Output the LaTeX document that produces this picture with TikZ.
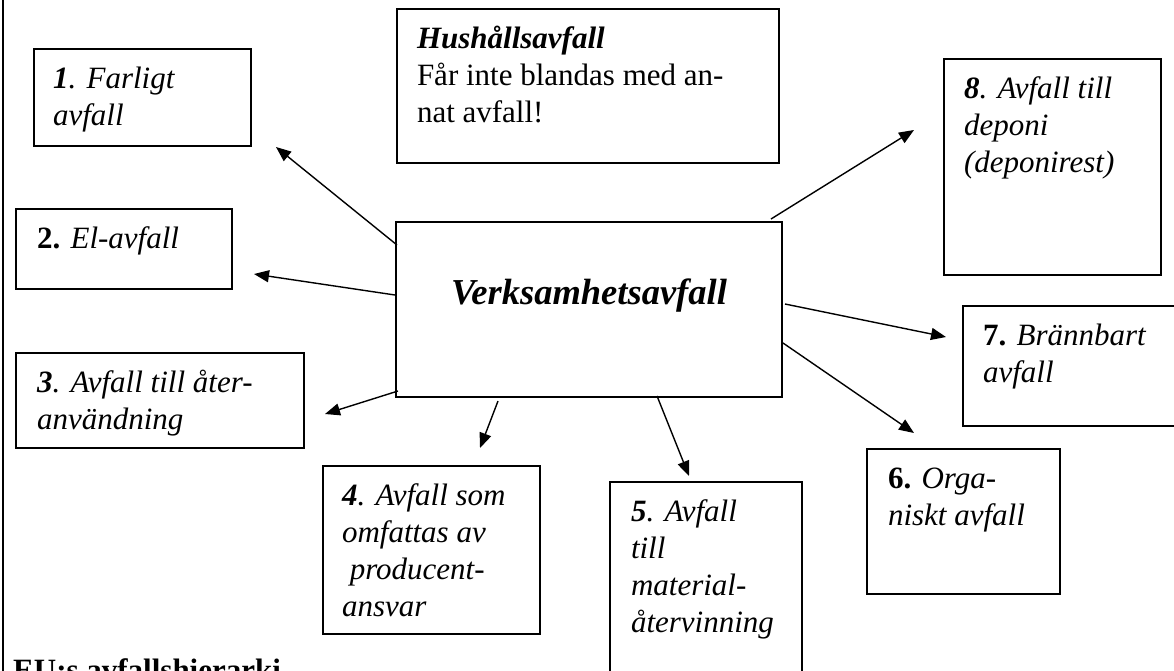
\documentclass[tikz,border=0pt]{standalone}
\usepackage{fontspec}
\setmainfont{Liberation Serif}
\usetikzlibrary{arrows.meta,calc}
\tikzset{
  box/.style={draw, line width=1.8pt, anchor=north west, inner sep=0pt, outer sep=0pt},
  lbl/.style={anchor=base west, inner sep=0pt, outer sep=0pt, font=\fontsize{31pt}{37pt}\selectfont\itshape},
  arr/.style={line width=1.4pt, -{Triangle[length=15pt,width=12pt]}},
}
\begin{document}
\begin{tikzpicture}[x=1pt,y=-1pt]
\useasboundingbox (0,0) rectangle (1174,670);
\clip (0,0) rectangle (1174,670);

% left border
\draw[line width=2pt] (2.5,-5) -- (2.5,680);

% boxes
\node[box, minimum width=217pt, minimum height=97pt] (b1) at (34,49) {};
\node[box, minimum width=216pt, minimum height=80pt] (b2) at (16,209) {};
\node[box, minimum width=288pt, minimum height=95pt] (b3) at (16,353) {};
\node[box, minimum width=217pt, minimum height=168pt] (b4) at (323,466) {};
\node[box, minimum width=192pt, minimum height=220pt] (b5) at (610,482) {};
\node[box, minimum width=193pt, minimum height=145pt] (b6) at (867,449) {};
\node[box, minimum width=240pt, minimum height=120pt] (b7) at (963,306) {};
\node[box, minimum width=217pt, minimum height=216pt] (b8) at (944,59) {};
\node[box, minimum width=382pt, minimum height=154pt] (hh) at (397,9) {};
\node[box, minimum width=386pt, minimum height=175pt] (c) at (396,222) {};

% texts
\node[lbl] (t1x) at ($(b1.north west)+(19,39)$) {\vtop{\hbox{\textbf{1}. Farligt}\hbox{avfall}}};
\node[lbl] (t2x) at ($(b2.north west)+(21,39)$) {\textup{\textbf{2.}} El-avfall};
\node[lbl] (t3x) at ($(b3.north west)+(21,39)$) {\vtop{\hbox{\textbf{3}. Avfall till åter-}\hbox{användning}}};
\node[lbl] (t4x) at ($(b4.north west)+(19,39)$) {\vtop{\hbox{\textbf{4}. Avfall som}\hbox{omfattas av}\hbox{\ producent-}\hbox{ansvar}}};
\node[lbl] (t5x) at ($(b5.north west)+(21,39)$) {\vtop{\hbox{\textbf{5}. Avfall}\hbox{till}\hbox{material-}\hbox{återvinning}}};
\node[lbl] (t6x) at ($(b6.north west)+(21,39)$) {\vtop{\hbox{\textup{\textbf{6.}} Orga-}\hbox{niskt avfall}}};
\node[lbl] (t7x) at ($(b7.north west)+(20,39)$) {\vtop{\hbox{\textup{\textbf{7.}} Brännbart}\hbox{avfall}}};
\node[lbl] (t8x) at ($(b8.north west)+(20,39)$) {\vtop{\hbox{\textbf{8}. Avfall till}\hbox{deponi}\hbox{(deponirest)}}};
\node[lbl] (hht) at ($(hh.north west)+(20,39)$) {\vtop{\hbox{\textbf{Hushållsavfall}}\hbox{\upshape Får inte blandas med an-}\hbox{\upshape nat avfall!}}};
\node[anchor=base, inner sep=0pt, font=\fontsize{36.5pt}{40pt}\selectfont\bfseries\itshape] (ct) at ($(c.north)+(0,82)$) {Verksamhetsavfall};

\node[anchor=base west, inner sep=0pt, font=\fontsize{31pt}{37pt}\selectfont\bfseries] (eu) at (13,680) {EU:s avfallshierarki};

% arrow end points
\coordinate (s1) at (397,245); \coordinate (e1) at (276,147);
\coordinate (s2) at (395,295); \coordinate (e2) at (254,274);
\coordinate (s3) at (398,391); \coordinate (e3) at (325,414);
\coordinate (s4) at (498,401); \coordinate (e4) at (480,448);
\coordinate (s5) at (657,396); \coordinate (e5) at (689,476);
\coordinate (s6) at (783,343); \coordinate (e6) at (914,433);
\coordinate (s7) at (785,304); \coordinate (e7) at (946,337);
\coordinate (s8) at (771,219); \coordinate (e8) at (914,130);

\draw[arr] (s1) -- (e1);
\draw[arr] (s2) -- (e2);
\draw[arr] (s3) -- (e3);
\draw[arr] (s4) -- (e4);
\draw[arr] (s5) -- (e5);
\draw[arr] (s6) -- (e6);
\draw[arr] (s7) -- (e7);
\draw[arr] (s8) -- (e8);
\end{tikzpicture}
\end{document}
